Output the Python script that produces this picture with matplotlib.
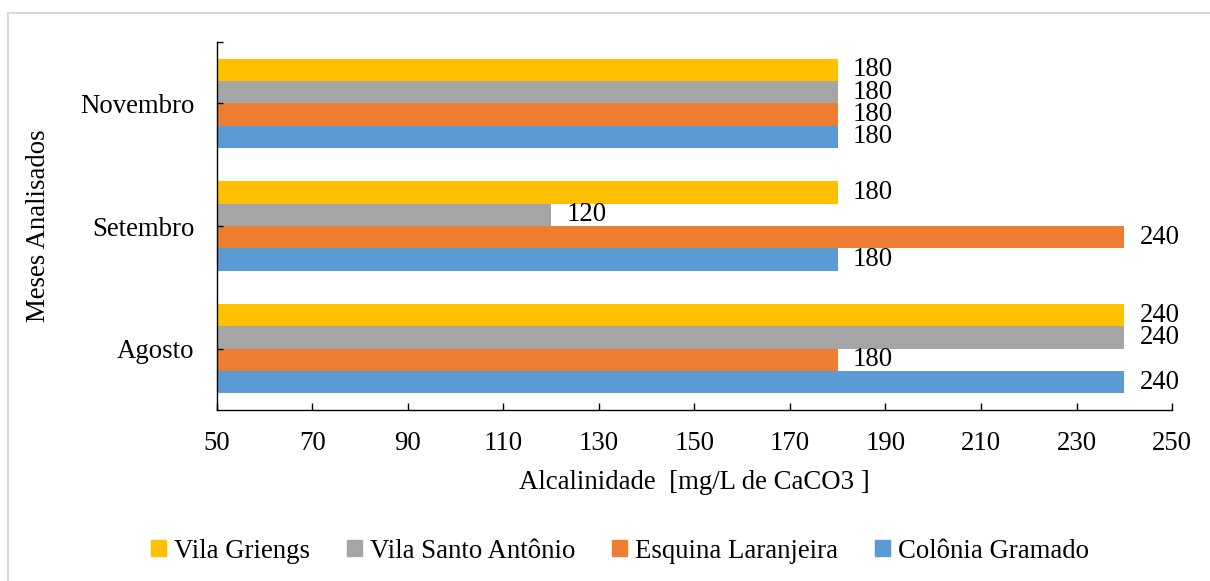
import matplotlib.pyplot as plt
import matplotlib.ticker as ticker
from matplotlib.lines import Line2D
from matplotlib.patches import Patch
import numpy as np

meses = ['Agosto', 'Setembro', 'Novembro']
series = ['Colônia Gramado', 'Esquina Laranjeira', 'Vila Santo Antônio', 'Vila Griengs']
colonia_gramado = [240, 180, 180]
esquina_laranjeira = [180, 240, 180]
vila_santo_antonio = [240, 120, 180]
vila_griengs = [240, 180, 180]
x_ticks = [50, 70, 90, 110, 130, 150, 170, 190, 210, 230, 250]
cores = ['#5B9BD5', '#ED7D31', '#A5A5A5', '#FFC000']

FS = 19.3
plt.rcParams['font.family'] = ['Liberation Serif', 'DejaVu Serif']
plt.rcParams['font.size'] = FS

fig = plt.figure(figsize=(12.1, 5.81), dpi=100)
ax = fig.add_axes([0.1793, 0.2943, 0.9686 - 0.1793, 0.9277 - 0.2943])

y = np.arange(len(meses))
h = 0.182
valores = [colonia_gramado, esquina_laranjeira, vila_santo_antonio, vila_griengs]
for i, (nome, vals, cor) in enumerate(zip(series, valores, cores)):
    off = (i - 1.5) * h
    bars = ax.barh(y + off, np.array(vals) - 50, left=50, height=h,
                   color=cor, label=nome, linewidth=0)
    ax.bar_label(bars, labels=[str(v) for v in vals], padding=11,
                 fontsize=FS)

ax.set_xlim(50, 250)
ax.set_ylim(-0.5, 2.5)
ax.xaxis.set_major_locator(ticker.FixedLocator(x_ticks))
ax.set_yticks(y)
ax.set_yticklabels(meses)
ax.yaxis.set_minor_locator(ticker.FixedLocator([2.5]))

for s in ['top', 'right']:
    ax.spines[s].set_visible(False)
for s in ['left', 'bottom']:
    ax.spines[s].set_linewidth(1.0)
ax.tick_params(axis='x', direction='in', length=5, width=1.0, pad=15)
ax.tick_params(axis='y', direction='in', length=4.5, width=1.0, pad=16)
ax.tick_params(axis='y', which='minor', direction='in', length=4.5, width=1.0)

ax.set_xlabel('Alcalinidade  [mg/L de CaCO3 ]', labelpad=10)
ax.set_ylabel('Meses Analisados', labelpad=21)

handles = [Patch(color=c) for c in cores[::-1]]
fig.legend(handles, series[::-1], loc='center', bbox_to_anchor=(620 / 1210, 1 - 551 / 581),
           ncol=4, frameon=False, handlelength=0.55, handleheight=0.55,
           handletextpad=0.3, columnspacing=1.38, fontsize=FS)

# light border around the chart area
fig.add_artist(Line2D([8 / 1210, 8 / 1210], [0, 1 - 12.5 / 581], color='#D9D9D9',
                      linewidth=1.5, transform=fig.transFigure))
fig.add_artist(Line2D([8 / 1210, 1], [1 - 12.5 / 581, 1 - 12.5 / 581], color='#D9D9D9',
                      linewidth=1.5, transform=fig.transFigure))

fig.savefig('out.png', dpi=100)
